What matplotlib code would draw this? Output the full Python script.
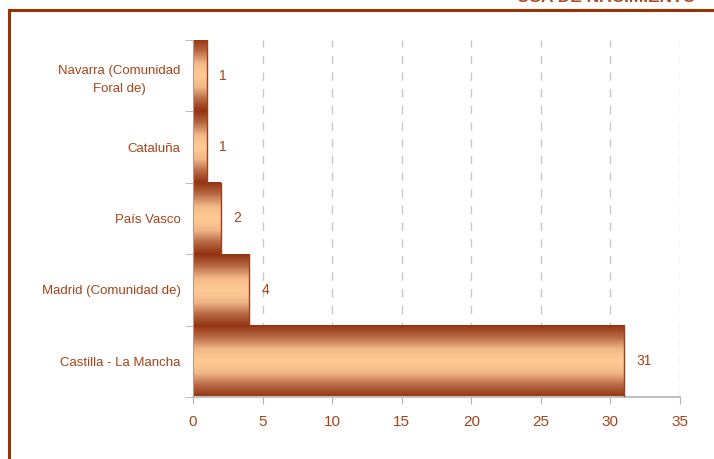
import matplotlib
matplotlib.use('Agg')
import matplotlib.pyplot as plt
import numpy as np
from matplotlib.colors import LinearSegmentedColormap
from matplotlib.lines import Line2D

# Data (bottom to top)
regions = ['Castilla - La Mancha', 'Madrid (Comunidad de)', 'País Vasco', 'Cataluña',
           'Navarra (Comunidad\nForal de)']
counts = [31, 4, 2, 1, 1]
xticks = [0, 5, 10, 15, 20, 25, 30, 35]

plt.rcParams['font.family'] = ['Liberation Sans', 'DejaVu Sans']
txt_color = '#A4441A'
frame_color = '#993300'

fig = plt.figure(figsize=(7.14, 4.59), dpi=100)
ax = fig.add_axes([193/714, 62/459, 487/714, 357/459])

cmap = LinearSegmentedColormap.from_list('bar', ['#923210', '#B86A45', '#F2B888', '#FFCB96', '#F2B888', '#B86A45', '#923210'])
grad = np.linspace(0, 1, 256).reshape(-1, 1)

ypos = np.arange(len(regions))
for y, v in zip(ypos, counts):
    ax.imshow(grad, extent=[0, v, y - 0.5, y + 0.5], aspect='auto', cmap=cmap,
              origin='lower', zorder=2, interpolation='bicubic')
    ax.plot([v, v], [y - 0.5, y + 0.5], color='#A83C10', lw=1, zorder=3)
    ax.text(v + 0.9, y, str(v), va='center', ha='left', color=txt_color, fontsize=10)

ax.set_xlim(0, 35)
ax.set_ylim(-0.5, len(regions) - 0.5)
ax.set_xticks(xticks)
ax.set_xticklabels([str(t) for t in xticks], color=txt_color, fontsize=11)
ax.set_yticks(ypos)
ax.set_yticklabels(regions, color=txt_color, fontsize=9.5, multialignment='center',
                   linespacing=1.6)
ax.set_yticks(np.arange(-0.5, len(regions)), minor=True)
ax.tick_params(axis='y', which='major', length=0, pad=9)
ax.tick_params(axis='y', which='minor', length=6, color='#B0B0B0')
ax.tick_params(axis='x', length=5, color='#B0B0B0', pad=8)

for t in xticks[1:]:
    ax.axvline(t, color='#C8C8C8', lw=1, ls=(0, (6, 6)), zorder=1)

for s in ['top', 'right']:
    ax.spines[s].set_visible(False)
ax.spines['left'].set_color('#A0A0A0')
ax.spines['bottom'].set_color('#C0C0C0')
ax.spines['bottom'].set_linewidth(1.5)

# Page frame lines
fig.add_artist(Line2D([9/714, 1], [1 - 10/459, 1 - 10/459], color=frame_color, lw=2.2))
fig.add_artist(Line2D([9/714, 9/714], [0, 1 - 10/459], color=frame_color, lw=2.2))
fig.text(517/714, 1 - 1.5/459, 'USA DE NACIMIENTO', color='#B04A20', fontsize=12.5,
         ha='left', va='baseline', fontweight='bold')

fig.savefig('out.png', dpi=100)
